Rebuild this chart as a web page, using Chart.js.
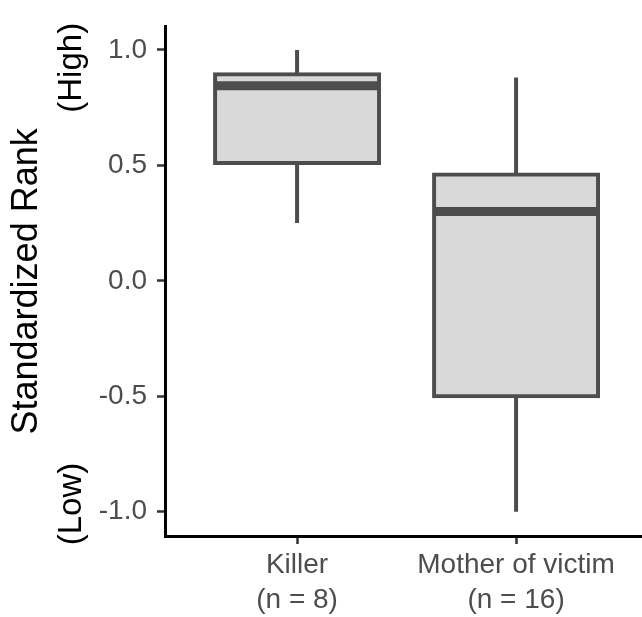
<!DOCTYPE html>
<html>
<head>
<meta charset="utf-8">
<script src="https://cdn.jsdelivr.net/npm/chart.js@4/dist/chart.umd.min.js"></script>
<style>
  html, body { margin: 0; padding: 0; background: #ffffff; }
  #wrap { width: 642px; height: 617px; }
</style>
</head>
<body>
<div id="wrap"><canvas id="c" width="642" height="617"></canvas></div>
<script>
// Box-plot summaries per group
const categories = ['Killer', 'Mother of victim'];
const groupSizes = [8, 16];
const whiskerLow  = [0.25, -1.0];
const q1          = [0.51, -0.50];
const median      = [0.845, 0.30];
const q3          = [0.895, 0.46];
const whiskerHigh = [1.0, 0.88];
const yTicks = [-1.0, -0.5, 0.0, 0.5, 1.0];

const positions = categories.map((_, i) => i + 1);

const boxColor = '#4d4d4d';
const boxFill = '#d9d9d9';
const fontFamily = '"Liberation Sans", Arial, sans-serif';

// Rotated "(High)" / "(Low)" markers beside the y axis title
const endLabels = {
  id: 'endLabels',
  afterDraw(chart) {
    const { ctx, chartArea } = chart;
    ctx.save();
    ctx.fillStyle = '#000000';
    ctx.font = '33px ' + fontFamily;
    ctx.textAlign = 'center';
    ctx.textBaseline = 'middle';
    const x = 72;
    [['(High)', chartArea.top + 41], ['(Low)', chartArea.bottom - 32]].forEach(([t, y]) => {
      ctx.save();
      ctx.translate(x, y);
      ctx.rotate(-Math.PI / 2);
      ctx.fillText(t, 0, 0);
      ctx.restore();
    });
    ctx.restore();
  }
};

new Chart(document.getElementById('c'), {
  type: 'bar',
  data: {
    datasets: [
      {
        // median bars
        type: 'line',
        data: positions.map((x, i) => ({ x, y: median[i] })),
        showLine: false,
        pointStyle: 'line',
        pointRadius: 82,
        pointHoverRadius: 82,
        pointBorderWidth: 9,
        pointHoverBorderWidth: 9,
        pointBorderColor: boxColor,
        clip: false,
        order: 0
      },
      {
        // interquartile boxes
        data: positions.map((x, i) => ({ x, y: [q1[i], q3[i]] })),
        backgroundColor: boxFill,
        borderColor: boxColor,
        borderWidth: 4,
        borderSkipped: false,
        inflateAmount: 2,
        barThickness: 164,
        grouped: false,
        order: 1
      },
      {
        // whiskers
        data: positions.map((x, i) => ({ x, y: [whiskerLow[i], whiskerHigh[i]] })),
        backgroundColor: boxColor,
        borderWidth: 0,
        inflateAmount: 0,
        barThickness: 4,
        grouped: false,
        order: 2
      }
    ]
  },
  options: {
    responsive: false,
    animation: false,
    events: [],
    layout: { autoPadding: false, padding: { top: 22, right: 0, left: 0, bottom: 0 } },
    plugins: {
      legend: { display: false },
      tooltip: { enabled: false }
    },
    scales: {
      x: {
        type: 'linear',
        offset: false,
        min: 0.397,
        max: 2.575,
        afterBuildTicks(scale) {
          scale.ticks = positions.map(v => ({ value: v }));
        },
        afterFit(scale) { scale.height = 81; },
        grid: {
          drawOnChartArea: false,
          drawTicks: true,
          tickLength: 8,
          tickWidth: 2.5,
          tickColor: '#333333',
          offset: false
        },
        border: { display: true, color: '#000000', width: 3 },
        ticks: {
          padding: 4,
          color: '#4d4d4d',
          font: { family: fontFamily, size: 28, lineHeight: 1.25 },
          maxRotation: 0,
          autoSkip: false,
          callback(value) {
            const i = positions.indexOf(value);
            return i < 0 ? '' : [categories[i], '(n = ' + groupSizes[i] + ')'];
          }
        }
      },
      y: {
        type: 'linear',
        min: -1.105,
        max: 1.1,
        afterBuildTicks(scale) {
          scale.ticks = yTicks.map(v => ({ value: v }));
        },
        afterFit(scale) { scale.width = 165; },
        grid: {
          drawOnChartArea: false,
          drawTicks: true,
          tickLength: 8,
          tickWidth: 2.5,
          tickColor: '#333333'
        },
        border: { display: true, color: '#000000', width: 3 },
        ticks: {
          padding: 10,
          color: '#4d4d4d',
          font: { family: fontFamily, size: 28 },
          callback(value) { return value.toFixed(1); }
        },
        title: {
          display: true,
          text: 'Standardized Rank',
          color: '#000000',
          font: { family: fontFamily, size: 36, lineHeight: 1.2 },
          padding: { top: 5, bottom: 0 }
        }
      }
    }
  },
  plugins: [endLabels]
});
</script>
</body>
</html>
